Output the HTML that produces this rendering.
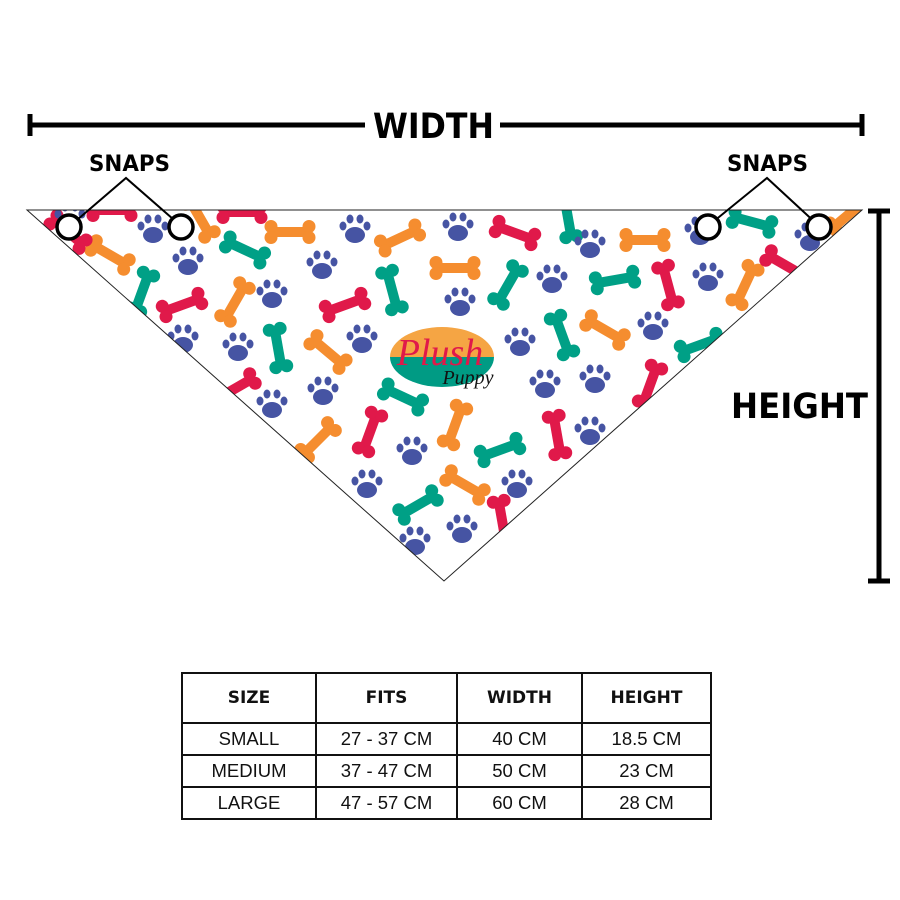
<!DOCTYPE html>
<html><head><meta charset="utf-8"><style>
html,body{margin:0;padding:0;background:#fff;}
body{width:900px;height:900px;position:relative;overflow:hidden;font-family:"Liberation Sans",sans-serif;}
svg{position:absolute;left:0;top:0;}
table{position:absolute;left:181px;top:672px;border-collapse:collapse;}
td{border:2px solid #111;text-align:center;font-size:18.5px;color:#111;padding:0;}
tr.h td{height:48px;font-weight:bold;font-size:17px;font-family:"DejaVu Sans",sans-serif;}
tr.r td{height:30px;}
</style></head><body>
<svg width="900" height="900" viewBox="0 0 900 900">
<defs>
<g id="bone"><rect x="-17" y="-5" width="34" height="10"/><circle cx="-19" cy="-5.5" r="6.5"/><circle cx="-19" cy="5.5" r="6.5"/><circle cx="19" cy="-5.5" r="6.5"/><circle cx="19" cy="5.5" r="6.5"/></g>
<g id="paw"><ellipse cx="0" cy="5" rx="10" ry="8"/><ellipse cx="-12" cy="-4" rx="3.5" ry="4.5"/><ellipse cx="-5" cy="-11" rx="3.5" ry="4.5"/><ellipse cx="5" cy="-11" rx="3.5" ry="4.5"/><ellipse cx="12" cy="-4" rx="3.5" ry="4.5"/></g>
<clipPath id="tri"><polygon points="27,210 862,210 444,581"/></clipPath>
</defs>
<g clip-path="url(#tri)">
<g fill="#f58d2f">
<use href="#bone" transform="translate(110,255) rotate(30)"/>
<use href="#bone" transform="translate(290,232)"/>
<use href="#bone" transform="translate(235,302) rotate(-60)"/>
<use href="#bone" transform="translate(328,352) rotate(40)"/>
<use href="#bone" transform="translate(400,238) rotate(-25)"/>
<use href="#bone" transform="translate(455,268)"/>
<use href="#bone" transform="translate(605,330) rotate(30)"/>
<use href="#bone" transform="translate(645,240)"/>
<use href="#bone" transform="translate(745,285) rotate(-65)"/>
<use href="#bone" transform="translate(455,425) rotate(-70)"/>
<use href="#bone" transform="translate(318,440) rotate(-45)"/>
<use href="#bone" transform="translate(465,485) rotate(30)"/>
<use href="#bone" transform="translate(200,218) rotate(60)"/>
<use href="#bone" transform="translate(848,215) rotate(-40)"/>
</g>
<g fill="#00a086">
<use href="#bone" transform="translate(245,250) rotate(25)"/>
<use href="#bone" transform="translate(142,292) rotate(-70)"/>
<use href="#bone" transform="translate(278,348) rotate(80)"/>
<use href="#bone" transform="translate(392,290) rotate(75)"/>
<use href="#bone" transform="translate(508,285) rotate(-60)"/>
<use href="#bone" transform="translate(562,335) rotate(70)"/>
<use href="#bone" transform="translate(615,280) rotate(-10)"/>
<use href="#bone" transform="translate(752,222) rotate(15)"/>
<use href="#bone" transform="translate(700,345) rotate(-20)"/>
<use href="#bone" transform="translate(403,397) rotate(25)"/>
<use href="#bone" transform="translate(500,450) rotate(-20)"/>
<use href="#bone" transform="translate(418,505) rotate(-30)"/>
<use href="#bone" transform="translate(568,218) rotate(80)"/>
</g>
<g fill="#e0194a">
<use href="#bone" transform="translate(182,305) rotate(-20)"/>
<use href="#bone" transform="translate(345,305) rotate(-20)"/>
<use href="#bone" transform="translate(515,233) rotate(20)"/>
<use href="#bone" transform="translate(668,285) rotate(75)"/>
<use href="#bone" transform="translate(650,385) rotate(-70)"/>
<use href="#bone" transform="translate(370,432) rotate(-70)"/>
<use href="#bone" transform="translate(557,435) rotate(80)"/>
<use href="#bone" transform="translate(502,520) rotate(80)"/>
<use href="#bone" transform="translate(242,212)"/>
<use href="#bone" transform="translate(112,210)"/>
<use href="#bone" transform="translate(785,265) rotate(30)"/>
<use href="#bone" transform="translate(236,388) rotate(-30)"/>
<use href="#bone" transform="translate(68,232) rotate(40)"/>
</g>
<g fill="#4654a3">
<use href="#paw" transform="translate(153,230)"/>
<use href="#paw" transform="translate(188,262)"/>
<use href="#paw" transform="translate(272,295)"/>
<use href="#paw" transform="translate(238,348)"/>
<use href="#paw" transform="translate(272,405)"/>
<use href="#paw" transform="translate(323,392)"/>
<use href="#paw" transform="translate(322,266)"/>
<use href="#paw" transform="translate(355,230)"/>
<use href="#paw" transform="translate(362,340)"/>
<use href="#paw" transform="translate(458,228)"/>
<use href="#paw" transform="translate(460,303)"/>
<use href="#paw" transform="translate(520,343)"/>
<use href="#paw" transform="translate(552,280)"/>
<use href="#paw" transform="translate(590,245)"/>
<use href="#paw" transform="translate(595,380)"/>
<use href="#paw" transform="translate(545,385)"/>
<use href="#paw" transform="translate(653,327)"/>
<use href="#paw" transform="translate(708,278)"/>
<use href="#paw" transform="translate(700,232)"/>
<use href="#paw" transform="translate(412,452)"/>
<use href="#paw" transform="translate(367,485)"/>
<use href="#paw" transform="translate(462,530)"/>
<use href="#paw" transform="translate(517,485)"/>
<use href="#paw" transform="translate(590,432)"/>
<use href="#paw" transform="translate(415,542)"/>
<use href="#paw" transform="translate(183,340)"/>
<use href="#paw" transform="translate(810,238)"/>
<use href="#paw" transform="translate(70,218)"/>
</g>
</g>
<polygon points="27,210 862,210 444,581" fill="none" stroke="#222" stroke-width="1"/>
<path d="M390,357 A52,30 0 0 1 494,357 Z" fill="#f5a544"/>
<path d="M390,357 A52,30 0 0 0 494,357 Z" fill="#009b84"/>
<text x="440" y="365" text-anchor="middle" font-family="Liberation Serif,serif" font-style="italic" font-size="38" fill="#e0194a">Plush</text>
<text x="468" y="384" text-anchor="middle" font-family="Liberation Serif,serif" font-style="italic" font-size="20" fill="#111">Puppy</text>
<line x1="30" y1="125" x2="365" y2="125" stroke="#000" stroke-width="5"/>
<line x1="500" y1="125" x2="862" y2="125" stroke="#000" stroke-width="5"/>
<line x1="30" y1="114" x2="30" y2="136" stroke="#000" stroke-width="5"/>
<line x1="862" y1="114" x2="862" y2="136" stroke="#000" stroke-width="5"/>
<text x="373" y="138" font-family="DejaVu Sans,sans-serif" font-weight="bold" font-size="35" textLength="121" lengthAdjust="spacingAndGlyphs">WIDTH</text>
<line x1="879" y1="211" x2="879" y2="581" stroke="#000" stroke-width="5"/>
<line x1="868" y1="211" x2="890" y2="211" stroke="#000" stroke-width="5"/>
<line x1="868" y1="581" x2="890" y2="581" stroke="#000" stroke-width="5"/>
<text x="731" y="418" font-family="DejaVu Sans,sans-serif" font-weight="bold" font-size="35" textLength="137" lengthAdjust="spacingAndGlyphs">HEIGHT</text>
<text x="89" y="171" font-family="DejaVu Sans,sans-serif" font-weight="bold" font-size="22" textLength="81" lengthAdjust="spacingAndGlyphs">SNAPS</text>
<text x="727" y="171" font-family="DejaVu Sans,sans-serif" font-weight="bold" font-size="22" textLength="81" lengthAdjust="spacingAndGlyphs">SNAPS</text>
<polyline points="70,226 126,178 181,226" fill="none" stroke="#000" stroke-width="2"/>
<polyline points="708,226 767,178 819,226" fill="none" stroke="#000" stroke-width="2"/>
<g fill="#fff" stroke="#000" stroke-width="3.5">
<circle cx="69" cy="227" r="12"/><circle cx="181" cy="227" r="12"/>
<circle cx="708" cy="227" r="12"/><circle cx="819" cy="227" r="12"/>
</g>
</svg>
<table>
<tr class="h"><td style="width:132px">SIZE</td><td style="width:139px">FITS</td><td style="width:123px">WIDTH</td><td style="width:127px">HEIGHT</td></tr>
<tr class="r"><td>SMALL</td><td>27 - 37 CM</td><td>40 CM</td><td>18.5 CM</td></tr>
<tr class="r"><td>MEDIUM</td><td>37 - 47 CM</td><td>50 CM</td><td>23 CM</td></tr>
<tr class="r"><td>LARGE</td><td>47 - 57 CM</td><td>60 CM</td><td>28 CM</td></tr>
</table>
</body></html>
